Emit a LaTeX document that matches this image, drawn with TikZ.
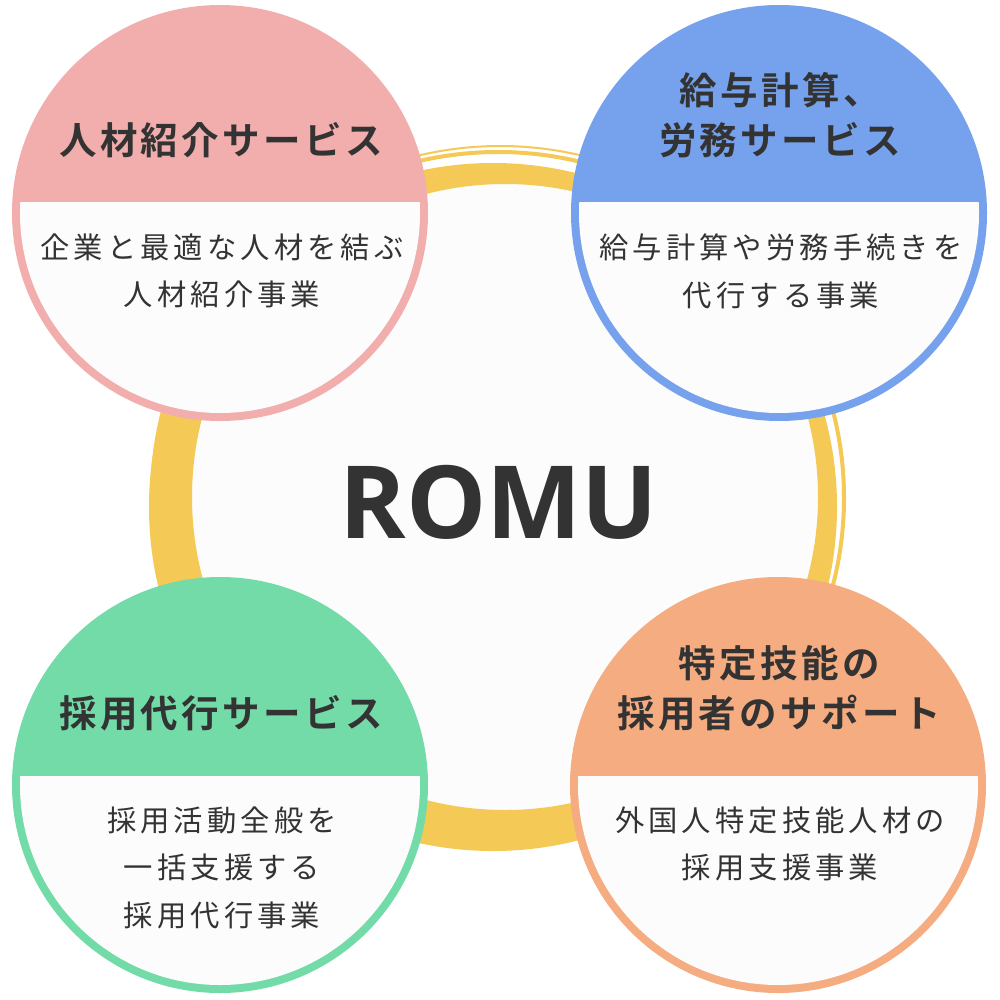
\documentclass[tikz,border=0pt]{standalone}
\usepackage{fontspec}
\usepackage{tikz}
\usetikzlibrary{positioning}
\newfontfamily\headfont{Noto Sans CJK JP Bold}[LetterSpace=9]
\newfontfamily\bodyfont{Noto Sans CJK JP}[LetterSpace=14]
\newfontfamily\romufont{Open Sans Bold}
\definecolor{pinkc}{HTML}{F2ADAD}
\definecolor{bluec}{HTML}{76A1EC}
\definecolor{greenc}{HTML}{72DBA8}
\definecolor{orangec}{HTML}{F5AC80}
\definecolor{ringc}{HTML}{F5C955}
\definecolor{innerc}{HTML}{FCFCFC}
\definecolor{textc}{HTML}{333333}

\begin{document}
\begin{tikzpicture}[x=1pt,y=-1pt,
  head/.style={font=\headfont\fontsize{37.5}{50}\selectfont,text=textc,align=center,inner sep=0pt},
  body/.style={font=\bodyfont\fontsize{29.3}{47.5}\selectfont,text=textc,align=center,inner sep=0pt}]
\fill[white] (0,0) rectangle (1000,1000);
\useasboundingbox (0,0) rectangle (1000,1000);

% centre ring
\coordinate (romu) at (505,497);
\fill[innerc] (romu) circle[radius=313];
\fill[ringc,even odd rule] (493,507) circle[radius=344] (romu) circle[radius=313];
\draw[ringc,line width=4] (498,498) circle[radius=346];
\draw[ringc,line width=2] (500,500) ++(-125:354) arc[start angle=-125,end angle=-55,radius=354];

% service circles
\foreach \n/\c/\x/\y/\cy in {jinzai/pinkc/220/213/203, romusvc/bluec/779/213/203,
  saiyo/greenc/220/785/776, tokutei/orangec/778/785/776}{
  \coordinate (\n) at (\x,\y);
  \fill[\c] (\n) circle[radius=208];
  \begin{scope}
    \clip (\x-210,\cy) rectangle (\x+210,\y+210);
    \fill[innerc] (\n) circle[radius=200];
  \end{scope}
}

\node[font=\romufont\fontsize{101}{101}\selectfont,text=textc,inner sep=0pt] (romuLabel) at (499,502) {ROMU};

\node[head] (jinzaiHead) at (221,140) {人材紹介サービス};
\node[body] (jinzaiBody) at (222,271) {企業と最適な人材を結ぶ\\人材紹介事業};

\node[head] (romusvcHead) at (780,115) {給与計算、\\労務サービス};
\node[body] (romusvcBody) at (781,271.5) {給与計算や労務手続きを\\代行する事業};

\node[head] (saiyoHead) at (221,713) {採用代行サービス};
\node[body] (saiyoBody) at (222,867.5) {採用活動全般を\\一括支援する\\採用代行事業};

\node[head] (tokuteiHead) at (779,688) {特定技能の\\採用者のサポート};
\node[body] (tokuteiBody) at (780,844) {外国人特定技能人材の\\採用支援事業};
\end{tikzpicture}
\end{document}
